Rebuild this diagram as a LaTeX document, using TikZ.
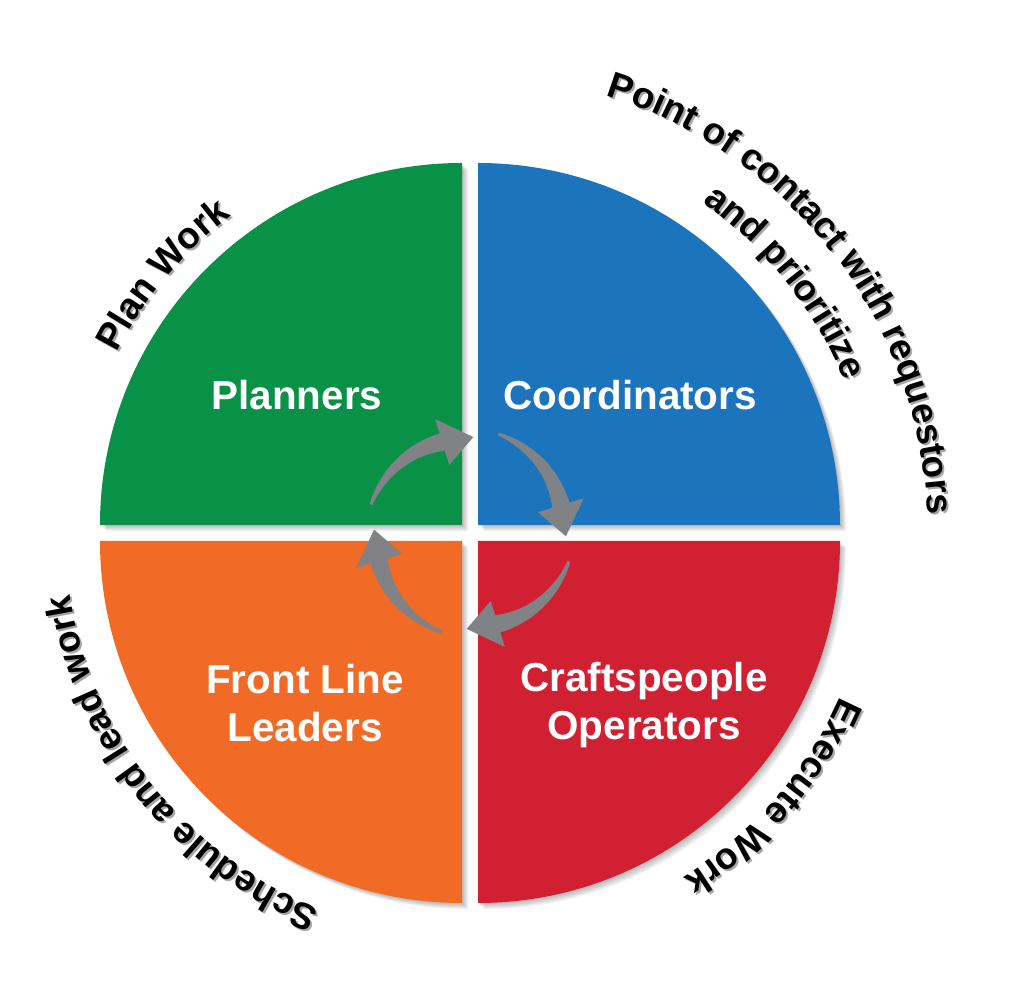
\documentclass[tikz,border=0pt]{standalone}
\usepackage{fontspec}
\setmainfont{Liberation Sans}
\usetikzlibrary{decorations.text}
\definecolor{qgreen}{RGB}{9,145,72}
\definecolor{qblue}{RGB}{28,117,188}
\definecolor{qorange}{RGB}{241,106,38}
\definecolor{qred}{RGB}{209,32,50}
\definecolor{arrowgray}{RGB}{128,130,133}
\newcommand\outerfont{\fontsize{21}{25}\selectfont\bfseries}
\newcommand\outershadow{\fontsize{21}{25}\selectfont\bfseries\color{black!35}}
\tikzset{
  lab/.style={text=white, font=\fontsize{23}{27.5}\selectfont\bfseries, align=center},
  outer/.style={decorate, decoration={text along path, text align=center, text={|\outerfont|#1}}},
  outershade/.style={decorate, decoration={text along path, text align=center, text={|\outershadow|#1}}},
}
\begin{document}
\begin{tikzpicture}[x=0.02cm,y=0.02cm]
\useasboundingbox (-470,-473) rectangle (554,533);
% shadows of the quarters
\foreach \a in {180,90,0,-90}{
  \foreach \s in {1,...,7}{
    \fill[black,opacity=0.045,shift={(\s*0.9,-\s*0.9)}] (\a-45:11.314) -- ++(\a:362) arc[start angle=\a, end angle=\a-90, radius=362] -- cycle;
  }
}
% quarters
\foreach \a/\c in {180/qgreen,90/qblue,0/qred,-90/qorange}{
  \fill[\c] (\a-45:11.314) -- ++(\a:362) arc[start angle=\a, end angle=\a-90, radius=362] -- cycle;
}
% labels
\node[lab] (planners) at (-173,138) {Planners};
\node[lab] (coord) at (160,138) {Coordinators};
\node[lab] (front) at (-165,-170) {Front Line\\Leaders};
\node[lab] (craft) at (174,-172) {Craftspeople\\Operators};
% cycle arrows
\foreach \q in {90,0,-90,180}{
  \pgfmathsetmacro\tA{\q+74}
  \pgfmathsetmacro\bA{\q+17}
  \pgfmathsetmacro\pA{\q-2}
  \fill[arrowgray] plot[domain=\tA:\bA,samples=30] (\x:{95+8*(\x-\bA)/(\tA-\bA)+1.5+7.5*(\tA-\x)/(\tA-\bA)})
    -- (\bA:119) -- (\pA:96) -- (\bA:71)
    -- plot[domain=\bA:\tA,samples=30] (\x:{95+8*(\x-\bA)/(\tA-\bA)-1.5-7.5*(\tA-\x)/(\tA-\bA)}) -- cycle;
}
% outer texts: shadows
\begin{scope}[shift={(2,-2)}]
\path[outershade=Plan Work] (175:397) arc[start angle=175, end angle=105, radius=397];
\path[outershade=Point of contact with requestors] (100:458) arc[start angle=100, end angle=-25, radius=458];
\path[outershade=and prioritize] (90:404) arc[start angle=90, end angle=-13, radius=404];
\path[outershade=Schedule and lead work] (-80:405) arc[start angle=-80, end angle=-203, radius=405];
\path[outershade=Execute Work] (0:405) arc[start angle=0, end angle=-82, radius=405];
\end{scope}
% outer texts
\path[outer=Plan Work] (175:397) arc[start angle=175, end angle=105, radius=397];
\path[outer=Point of contact with requestors] (100:458) arc[start angle=100, end angle=-25, radius=458];
\path[outer=and prioritize] (90:404) arc[start angle=90, end angle=-13, radius=404];
\path[outer=Schedule and lead work] (-80:405) arc[start angle=-80, end angle=-203, radius=405];
\path[outer=Execute Work] (0:405) arc[start angle=0, end angle=-82, radius=405];
\end{tikzpicture}
\end{document}
